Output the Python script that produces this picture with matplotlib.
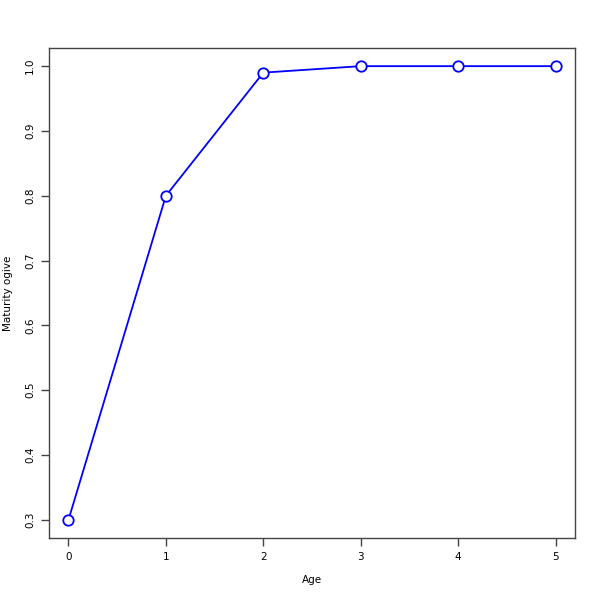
import matplotlib
matplotlib.use('Agg')
import matplotlib.pyplot as plt

age = [0, 1, 2, 3, 4, 5]
maturity = [0.3, 0.8, 0.99, 1.0, 1.0, 1.0]
yticks = [0.3, 0.4, 0.5, 0.6, 0.7, 0.8, 0.9, 1.0]

plt.rcParams['font.family'] = 'DejaVu Sans'
plt.rcParams['font.size'] = 7.5

fig = plt.figure(figsize=(6, 6), dpi=100)
ax = fig.add_axes([49/600, 62/600, 526/600, 490/600])
ax.plot(age, maturity, '-', color='blue', lw=1.3, zorder=2)
ax.plot(age, maturity, 'o', color='blue', mfc='white', mec='blue',
        ms=7.5, mew=1.3, zorder=3)

ax.set_xlim(-0.2, 5.2)
ax.set_ylim(0.272, 1.028)
ax.set_xticks(age)
ax.set_yticks(yticks)
ax.set_yticklabels([f'{v:.1f}' for v in yticks], rotation=90, va='center')
ax.tick_params(direction='out', length=6, width=1, color='#444444', pad=4)
for s in ax.spines.values():
    s.set_color('#444444')
    s.set_linewidth(1)

fig.text(8/600, 1 - 293/600, 'Maturity ogive', rotation=90, ha='center', va='center')
fig.text(312/600, 1 - 580/600, 'Age', ha='center', va='center')

plt.savefig('out.png', dpi=100)
plt.close()
